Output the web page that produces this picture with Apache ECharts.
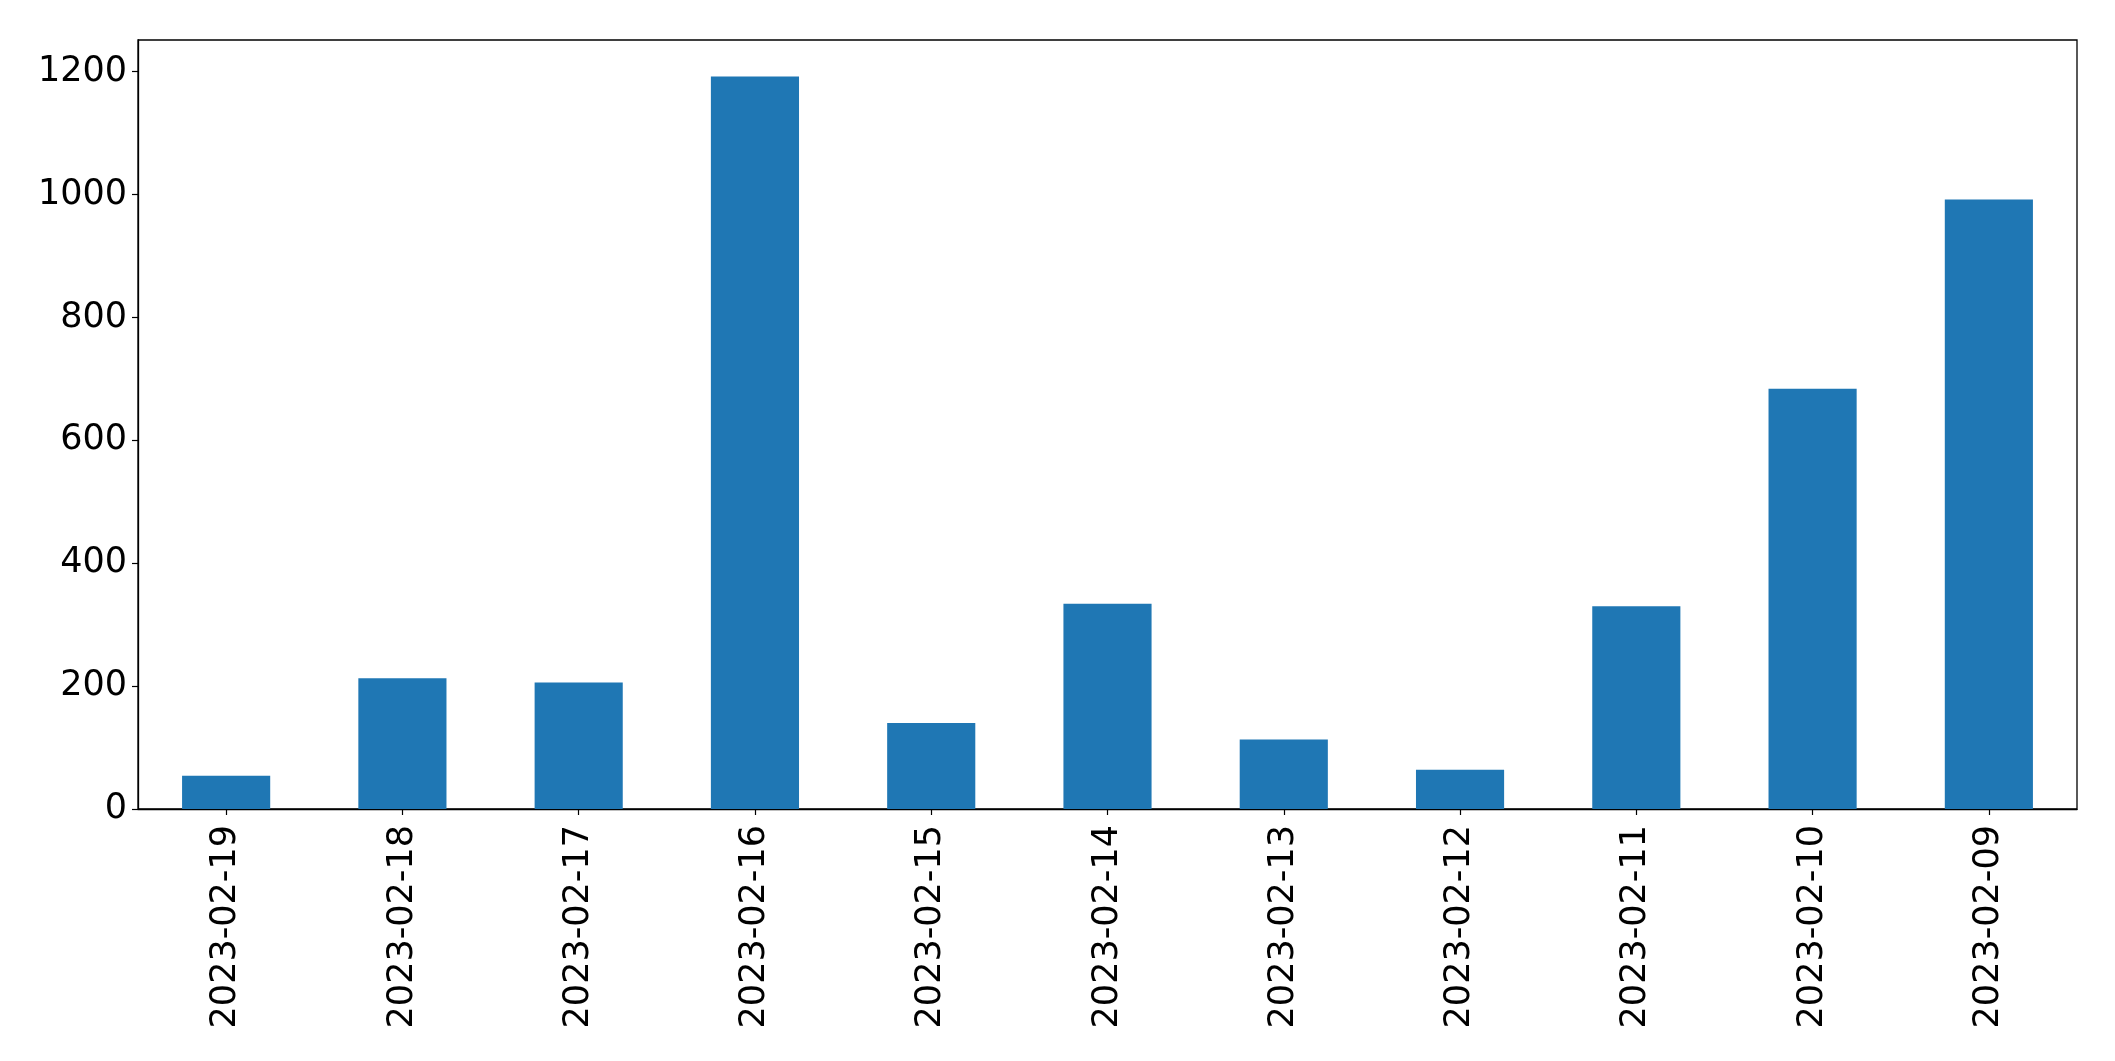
<!DOCTYPE html>
<html>
<head>
<meta charset="utf-8">
<script src="https://cdn.jsdelivr.net/npm/echarts@6/dist/echarts.min.js"></script>
<style>
html,body{margin:0;padding:0;background:#fff;}
#chart{width:2115px;height:1061px;}
</style>
</head>
<body>
<div id="chart"></div>
<script>
const categories = ['2023-02-19','2023-02-18','2023-02-17','2023-02-16','2023-02-15','2023-02-14','2023-02-13','2023-02-12','2023-02-11','2023-02-10','2023-02-09'];
const values = [54, 213, 206, 1192, 140, 334, 113, 64, 330, 684, 992];
const yTicks = [0, 200, 400, 600, 800, 1000, 1200];

const chart = echarts.init(document.getElementById('chart'), null, {renderer:'canvas'});
const font = 'DejaVu Sans';
chart.setOption({
  animation: false,
  backgroundColor: '#fff',
  grid: {left:138, right:38, top:40, bottom:252, show:true, borderColor:'#000', borderWidth:1.3, backgroundColor:'transparent'},
  xAxis: {
    type:'category', data:categories,
    axisLine:{show:true, lineStyle:{color:'#000', width:1.3}},
    axisTick:{show:true, alignWithLabel:true, length:6, lineStyle:{color:'#000', width:1.2}},
    axisLabel:{rotate:90, fontFamily:font, fontSize:35, color:'#000', margin:16}
  },
  yAxis: {
    type:'value', min:0, max:1251.6, interval:200,
    splitLine:{show:false},
    axisLine:{show:true, lineStyle:{color:'#000', width:1.3}},
    axisTick:{show:true, length:6, lineStyle:{color:'#000', width:1.2}},
    axisLabel:{fontFamily:font, fontSize:35, color:'#000', margin:11, showMaxLabel:false,
      formatter: v => yTicks.includes(v) ? String(v) : ''}
  },
  series: [{
    type:'bar', data:values, barCategoryGap:'50%',
    itemStyle:{color:'#1f77b4'}
  }]
});
</script>
</body>
</html>
